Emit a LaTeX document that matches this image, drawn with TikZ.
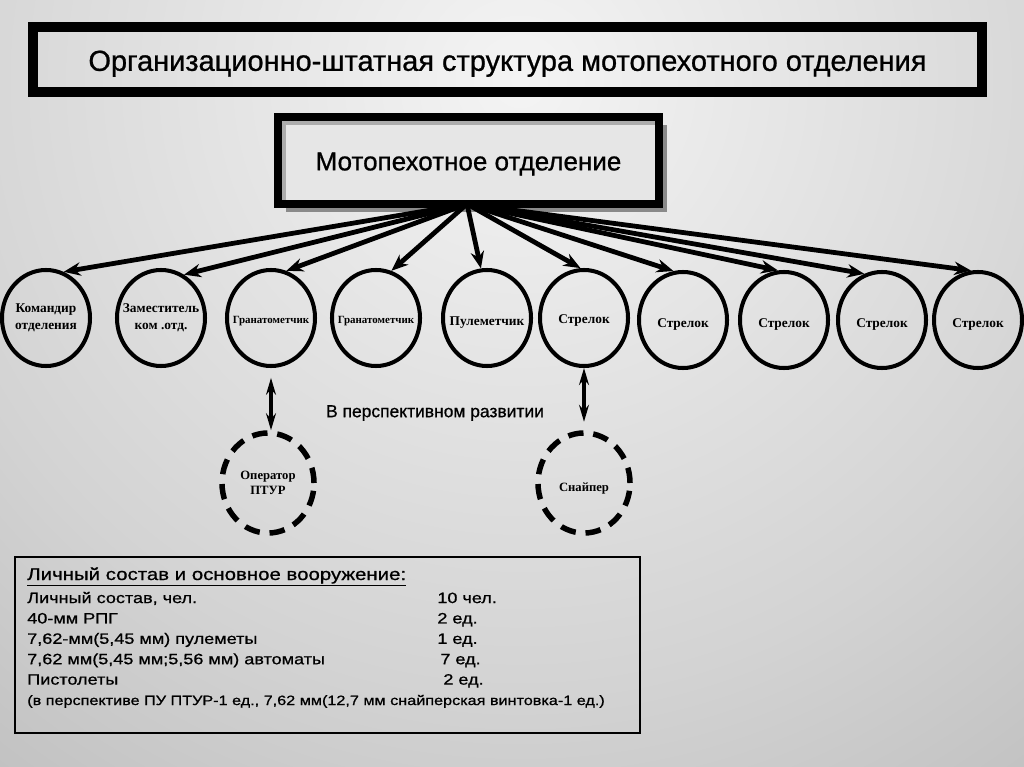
\documentclass[tikz,border=0pt]{standalone}
\usepackage{fontspec}
\setmainfont{Liberation Serif}
\setsansfont{Liberation Sans}
\newfontfamily\heavysans[FakeBold=0.8]{Liberation Sans}
\newfontfamily\widesans[FakeStretch=1.2, FakeBold=0.8]{Liberation Sans}
\usetikzlibrary{arrows.meta, shapes.geometric, shadows}

\definecolor{bgA}{HTML}{F4F4F4}
\definecolor{bgB}{HTML}{D3D3D3}
\definecolor{bgC}{HTML}{ACACAC}
\definecolor{bgD}{HTML}{7E7E7E}
\definecolor{boxfill}{HTML}{E6E6E6}
\definecolor{shadowgray}{HTML}{8A8A8A}

\pgfdeclareradialshading{os-backdrop}{\pgfpointorigin}{color(0bp)=(bgA); color(17bp)=(bgB); color(33bp)=(bgC); color(50bp)=(bgD)}

% lowered text that keeps its natural size
\newcommand{\sink}[2]{\raisebox{-#1}[\height][\depth]{#2}}

\tikzset{
  os-unit/.style={ellipse, draw=black, line width=2.85pt, minimum width=2.2cm, minimum height=2.4cm, inner sep=-12pt, align=center, font=\bfseries\fontsize{9.5}{12}\selectfont},
  os-small/.style={font=\bfseries\fontsize{7.8}{10}\selectfont},
  os-future/.style={os-unit, line width=3.9pt, dash pattern=on 11pt off 7pt, minimum width=2.3cm, minimum height=2.5cm, font=\bfseries\fontsize{9}{10.7}\selectfont},
  os-link/.style={-{Stealth[length=12pt, width=9.5pt]}, line width=3.4pt},
  os-dual/.style={{Stealth[length=12pt, width=7pt]}-{Stealth[length=12pt, width=7pt]}, line width=2.3pt},
}

\begin{document}
\begin{tikzpicture}[
    x=0.025cm, y=-0.025cm,
    os-title/.style={rectangle, draw=black, line width=7.1pt, minimum width=23.725cm, minimum height=1.625cm, font=\heavysans\fontsize{20.6}{24}\selectfont},
    os-head/.style={rectangle, draw=black, line width=5.7pt, fill=boxfill, minimum width=9.525cm, minimum height=2.175cm,
      drop shadow={shadow xshift=0.2cm, shadow yshift=-0.2cm, fill=shadowgray, opacity=1},
      path picture={\draw[gray!65, line width=0.4cm] (path picture bounding box.south west) |- (path picture bounding box.north east);},
      font=\heavysans\fontsize{18.5}{20}\selectfont},
    os-caption/.style={font=\heavysans\fontsize{12.4}{15}\selectfont},
    os-note/.style={rectangle, draw=black, line width=1.4pt, minimum width=15.625cm, minimum height=4.4cm},
    os-list/.style={inner sep=0pt, font=\widesans\fontsize{10.7}{14.5}\selectfont}
  ]

    % Background
    \begin{scope}
      \clip (0,0) rectangle (1024,767);
      \shade[shading=os-backdrop] (520,80) circle (900);
    \end{scope}
    \useasboundingbox (0,0) rectangle (1024,767);

    % Nodes: Title and squad
    \node[os-title] (title) at (507.5, 59.5) {\sink{3pt}{Организационно-штатная структура мотопехотного отделения}};
    \node[os-head]  (squad) at (468.5, 160.5) {\sink{2.5pt}{Мотопехотное отделение}};

    % Nodes: Squad members
    \node[os-unit] (cmdr)   at (46, 318)  {Командир\\отделения};
    \node[os-unit] (deputy) at (161, 318) {Заместитель\\ком .отд.};
    \node[os-unit, os-small] (gren1) at (271, 318) {\sink{2pt}{Гранатометчик}};
    \node[os-unit, os-small] (gren2) at (376, 318) {\sink{2pt}{Гранатометчик}};
    \node[os-unit] (mg)     at (487, 318) {\sink{3pt}{Пулеметчик}};
    \node[os-unit] (rifle1) at (584, 318) {\sink{2pt}{Стрелок}};
    \node[os-unit] (rifle2) at (683, 320) {\sink{3pt}{Стрелок}};
    \node[os-unit] (rifle3) at (784, 320) {\sink{3pt}{Стрелок}};
    \node[os-unit] (rifle4) at (882, 320) {\sink{3pt}{Стрелок}};
    \node[os-unit] (rifle5) at (978, 320) {\sink{3pt}{Стрелок}};

    % Nodes: Future members
    \node[os-caption] (prospect) at (435, 413) {В перспективном развитии};
    \node[os-future] (atgm)   at (268, 483) {Оператор\\ПТУР};
    \node[os-future] (sniper) at (584, 483) {\sink{4pt}{Снайпер}};

    % Edges: Squad to members
    \coordinate (hub) at (467, 204);
    \foreach \unit/\ang in {cmdr/69, deputy/62, gren1/72, gren2/72, mg/97, rifle1/94, rifle2/101, rifle3/97, rifle4/111, rifle5/98}
      \draw[os-link] (hub) -- (\unit.\ang);

    % Edges: Future links
    \draw[os-dual, shorten <=7pt] (gren1.south) -- (gren1.south |- atgm.north);
    \draw[os-dual, shorten >=6pt] (rifle1.south) -- (rifle1.south |- sniper.north);

    % Staff and weapons
    \node[os-note] (arms) at (327.5, 645) {};
    \node[os-list, anchor=base west] (armslist) at (27, 580) {%
      \begin{tabular}[t]{@{}p{10.25cm}@{}l@{}}
        \multicolumn{2}{@{}l@{}}{\fontsize{12.1}{14.5}\selectfont\underline{Личный состав и основное вооружение:}}\\[1.9pt]
        Личный состав, чел. & 10 чел.\\
        40-мм РПГ & 2 ед.\\
        7,62-мм(5,45 мм) пулеметы & 1 ед.\\
        7,62 мм(5,45 мм;5,56 мм) автоматы & \hspace{0.075cm}7 ед.\\
        Пистолеты & \hspace{0.15cm}2 ед.\\
        \multicolumn{2}{@{}l@{}}{\fontsize{9.6}{14.5}\selectfont(в перспективе ПУ ПТУР-1 ед., 7,62 мм(12,7 мм снайперская винтовка-1 ед.)}
      \end{tabular}};

\end{tikzpicture}
\end{document}
